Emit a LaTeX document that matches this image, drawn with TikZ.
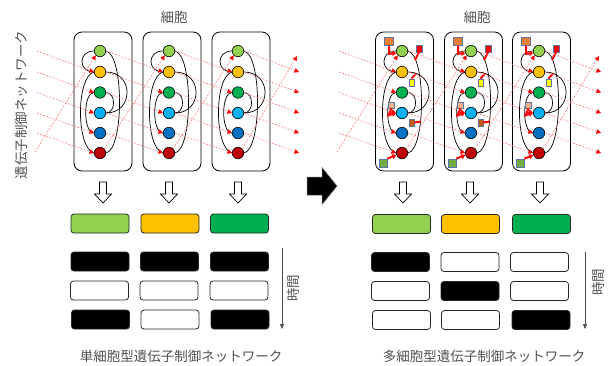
\documentclass[tikz,border=0pt]{standalone}
\usepackage{fontspec}
\newfontfamily\jp{Noto Sans CJK JP}
\usetikzlibrary{arrows.meta}

% gene colours
\definecolor{gA}{HTML}{92D050}
\definecolor{gB}{HTML}{FFC000}
\definecolor{gC}{HTML}{00B050}
\definecolor{gD}{HTML}{00B0F0}
\definecolor{gE}{HTML}{0070C0}
\definecolor{gF}{HTML}{C00000}
% signal molecules
\definecolor{sOr}{HTML}{ED7D31}
\definecolor{sRd}{HTML}{FF0000}
\definecolor{sYe}{HTML}{FFFF00}
\definecolor{sPe}{HTML}{F4B183}
\definecolor{sBr}{HTML}{C55A11}
\definecolor{sGr}{HTML}{70AD47}
\definecolor{sqEdge}{HTML}{5B74A8}
\definecolor{sigRed}{RGB}{255,115,115}
\definecolor{txtGray}{RGB}{80,80,80}

\tikzset{
  cellbox/.style={draw, line width=0.8pt, rounded corners=8pt, minimum width=58pt, minimum height=139pt, inner sep=0pt},
  gene/.style={circle, draw, line width=0.6pt, minimum size=11.5pt, inner sep=0pt},
  link/.style={line width=0.7pt, black},
  sig/.style={draw=sigRed, line width=0.55pt, dash pattern=on 1.8pt off 1.5pt,
              -{Triangle[length=4.5pt,width=4.5pt,color=red]}},
  sq/.style={draw=sqEdge, line width=0.7pt, inner sep=0pt},
  redhit/.style={draw=red, line width=2pt, -{Triangle[length=4pt,width=5pt]}},
  redbar/.style={draw=red, line width=2pt},
  bar/.style={draw=black!85, line width=0.8pt, rounded corners=3pt, minimum width=58pt, minimum height=19pt, inner sep=0pt},
  lbl/.style={font=\jp\fontsize{13.5}{16}\selectfont, text=txtGray, inner sep=0pt},
  timeline/.style={draw=black!70, line width=0.6pt, -{Triangle[length=5pt,width=4pt]}},
  downarrow/.pic={\draw[line width=0.7pt, fill=white] (-3.5,-10.5) -- (3.5,-10.5) -- (3.5,1.5) -- (8.5,1.5) -- (0,10.5) -- (-8.5,1.5) -- (-3.5,1.5) -- cycle;}
}

% one cell: #1 name prefix, #2 x of the genes, #3 x of the cell outline
\newcommand\drawcell[3]{%
  \node[cellbox] (#1-box) at (#3,101.5) {};
  \foreach \i/\y/\c in {1/51/gA,2/72/gB,3/92.5/gC,4/113/gD,5/133/gE,6/153/gF}
    \node[gene, fill=\c] (#1-n\i) at (#2,\y) {};
  % regulatory links inside the cell
  \draw[link] (#1-n1.west) .. controls +(-16,0) and +(-16,0) .. (#1-n2.west);
  \draw[link] (#1-n2.west) .. controls +(-18,5) and +(-18,-5) .. (#1-n6.west);
  \draw[link] (#1-n3.west) .. controls +(-11,0) and +(-11,0) .. (#1-n5.west);
  \draw[link] (#1-n1.east) .. controls +(18,4) and +(18,-4) .. (#1-n6.east);
  \draw[link] (#1-n2.east) .. controls +(28,0) and +(28,0) .. (#1-n4.east);
  \draw[link] (#1-n3.east) .. controls +(10,0) and +(10,0) .. (#1-n4.east);
}

% signals acting on one cell: #1 name prefix, #2 x of the genes
\newcommand\signals[2]{%
  \node[sq, fill=sOr, minimum width=9pt, minimum height=8pt] (#1-or) at (#2-13,41.5) {};
  \node[sq, fill=sRd, minimum width=6pt, minimum height=7pt] (#1-rd) at (#2+17,48.5) {};
  \node[sq, fill=sYe, minimum width=5pt, minimum height=7pt] (#1-ye) at (#2+9.5,82.5) {};
  \node[sq, fill=sPe, minimum width=5.5pt, minimum height=6pt] (#1-pe) at (#2-10.5,105) {};
  \node[sq, fill=sGr, minimum width=8pt, minimum height=8pt] (#1-gr) at (#2-19,163) {};
  \coordinate (#1-t1) at (#2+13,60);
  \coordinate (#1-t2) at (#2+14,73.5);
  \draw[redhit] (#1-or.south) -- ++(0,8) -- (#1-n1.200);
  \draw[redbar] (#1-rd.south) -- (#1-t1);
  \draw[redbar] (#1-ye.north) -- (#1-t2);
  \draw[redhit] (#1-pe.south) -- ++(-3,7) -- (#1-n4.west);
  \draw[redhit] (#1-gr.north east) -- (#1-n6.200);
}
\newcommand\brownsignal[2]{%
  \node[sq, fill=sBr, minimum width=5pt, minimum height=7pt] (#1-br) at (#2+9.5,122.5) {};
  \coordinate (#1-t3) at (#2+19,121.5);
  \draw[redbar] (#1-br.east) -- (#1-t3);
}

% signal flow between neighbouring cells: #1..#5 column prefixes
\newcommand\signalflow[5]{%
  \foreach \a/\b in {#2/#3,#3/#4}{
    \foreach \i [evaluate=\i as \j using int(\i+1)] in {1,...,5}
      \draw[sig] (\a-n\i.east) -- (\b-n\j.west);
    \draw[sig] (\a-n6.north east) -- (\b-n1.south west);
  }
  \foreach \i [evaluate=\i as \j using int(\i+1)] in {1,...,5}{
    \draw[sig] (#1-n\i) -- (#2-n\j.west);
    \draw[sig] (#4-n\i.east) -- (#5-n\j);
  }
  \draw[sig] (#1-d) -- (#2-n1.south west);
  \draw[sig] (#4-n6.north east) -- (#5-d);
}

\begin{document}
\begin{tikzpicture}[x=1pt,y=-1pt]
\useasboundingbox (0,0) rectangle (608,365);

% ---------- single-cell network ----------
\drawcell{L1}{100}{103}
\drawcell{L2}{169}{172}
\drawcell{L3}{238}{241}
\foreach \i/\y in {1/51,2/72,3/92.5,4/113,5/133,6/153}{
  \coordinate (L0-n\i) at (37,\y);
  \coordinate (L4-n\i) at (299,\y);
}
\coordinate (L0-d) at (35,152);
\coordinate (L4-d) at (297,56);
\signalflow{L0}{L1}{L2}{L3}{L4}

% ---------- multicellular network ----------
\drawcell{R1}{402}{404.5}
\drawcell{R2}{471}{473.5}
\drawcell{R3}{539}{541.5}
\signals{R1}{402}
\signals{R2}{471}
\signals{R3}{539}
\brownsignal{R1}{402}
\brownsignal{R2}{471}
\foreach \i/\y in {1/51,2/72,3/92.5,4/113,5/133,6/153}{
  \coordinate (R0-n\i) at (339,\y);
  \coordinate (R4-n\i) at (601,\y);
}
\coordinate (R0-d) at (337,152);
\coordinate (R4-d) at (599,56);
\signalflow{R0}{R1}{R2}{R3}{R4}

% ---------- labels ----------
\node[lbl] (tcellL) at (174,17) {細胞};
\node[lbl] (tcellR) at (477,17) {細胞};
\node[lbl, rotate=90] (tgrn) at (21,105) {遺伝子制御ネットワーク};
\node[lbl] (tsingle) at (181,356) {単細胞型遺伝子制御ネットワーク};
\node[lbl] (tmulti) at (484,356) {多細胞型遺伝子制御ネットワーク};

% ---------- expression output ----------
\foreach \x in {103,169,238,403,470,540}
  \pic at (\x,192.5) {downarrow};

\node[bar, fill=gA] (Lc1) at (100,223.5) {};
\node[bar, fill=gB] (Lc2) at (170,223.5) {};
\node[bar, fill=gC] (Lc3) at (239.5,223.5) {};
\node[bar, fill=gA] (Rc1) at (401.5,224) {};
\node[bar, fill=gB] (Rc2) at (470.5,224) {};
\node[bar, fill=gC] (Rc3) at (541.5,224) {};

% time courses (black = on, white = off)
\foreach \x/\f [count=\k] in {100/black,169.5/black,239.5/black}
  \node[bar, fill=\f] (La\k) at (\x,261.5) {};
\foreach \x/\f [count=\k] in {99.5/white,169/white,239/white}
  \node[bar, fill=\f] (Lb\k) at (\x,290.5) {};
\foreach \x/\f [count=\k] in {100.5/black,170/white,240/black}
  \node[bar, fill=\f] (Lr\k) at (\x,319.5) {};

\foreach \x/\f [count=\k] in {400.5/black,470/white,539.5/white}
  \node[bar, fill=\f] (Ra\k) at (\x,262) {};
\foreach \x/\f [count=\k] in {400.5/white,470/black,539.5/white}
  \node[bar, fill=\f] (Rb\k) at (\x,291) {};
\foreach \x/\f [count=\k] in {401.5/white,470.5/white,541/black}
  \node[bar, fill=\f] (Rr\k) at (\x,320) {};

% time axes
\coordinate (tL0) at (282,248);
\coordinate (tL1) at (282,329);
\coordinate (tR0) at (585,252);
\coordinate (tR1) at (585,329);
\draw[timeline] (tL0) -- (tL1);
\draw[timeline] (tR0) -- (tR1);
\node[lbl, rotate=90] (ttimeL) at (293,288) {時間};
\node[lbl, rotate=90] (ttimeR) at (598,282) {時間};

% transition arrow
\draw[fill=black, draw=black!60, line width=0.5pt]
  (307,177) -- (322,177) -- (322,167.5) -- (337,186) -- (322,204.5) -- (322,195) -- (307,195) -- cycle;
\end{tikzpicture}
\end{document}
